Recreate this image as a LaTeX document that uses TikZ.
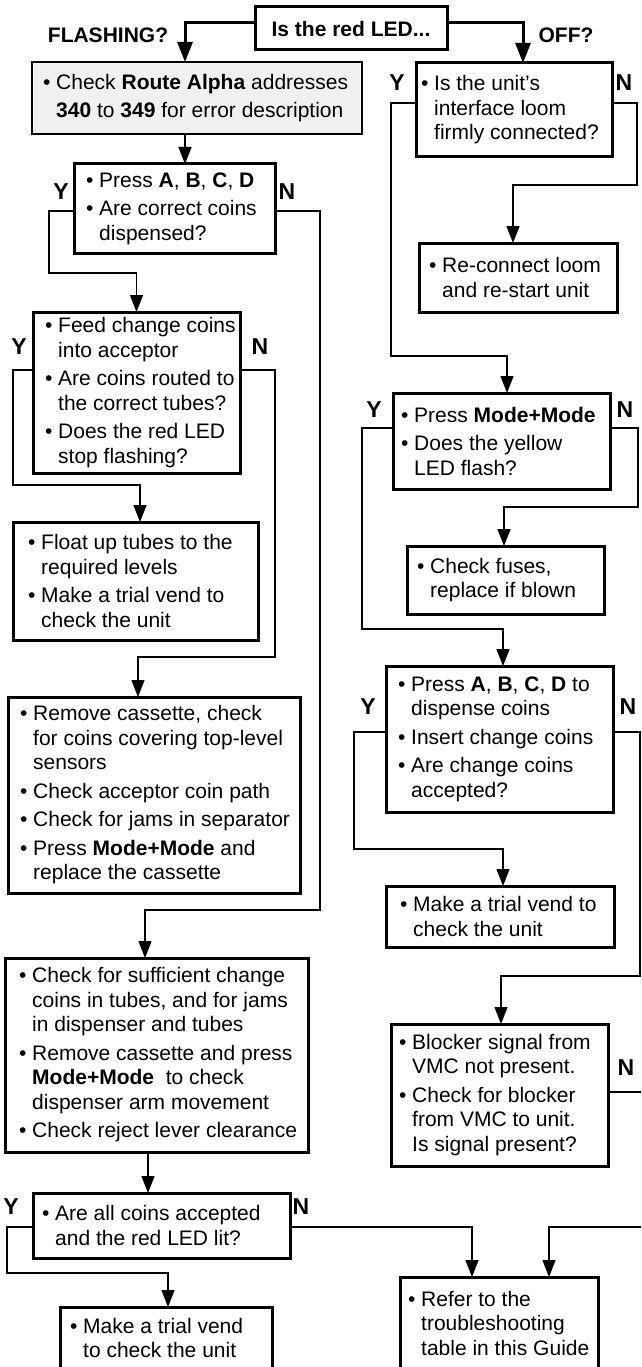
\documentclass[tikz,border=0pt]{standalone}
\usepackage{fontspec}
\setmainfont{Liberation Sans}
\usetikzlibrary{arrows.meta}
\newcommand{\bul}{\makebox[13pt][l]{\textbullet}}
\newcommand{\ind}{\hspace*{13pt}}
\newcommand{\bx}[7]{%
  \node[box, minimum width={(#4-#2)*1pt}, minimum height={(#5-#3)*1pt}] (#1) at (#2,#3) {};
  \node[txt] (#1t) at ([xshift=#6pt]#1.west) {#7};}
\begin{document}
\begin{tikzpicture}[x=1pt,y=-1pt,
  box/.style={draw, line width=3pt, rectangle, anchor=north west, inner sep=0pt, outer sep=0pt},
  txt/.style={anchor=west, align=left, inner sep=0pt, font=\fontsize{21}{24.5}\selectfont},
  lab/.style={font=\fontsize{23}{25}\selectfont\bfseries, inner sep=0pt},
  con/.style={line width=1.3pt, -{Triangle[length=17pt,width=13pt]}},
  tcon/.style={line width=3pt, -{Triangle[length=20pt,width=15pt]}}]
\useasboundingbox (0,0) rectangle (641,1367);
\clip (0,0) rectangle (641,1367);

% top question
\node[box, minimum width=192pt, minimum height=43pt, font=\fontsize{21}{24}\selectfont\bfseries] (T) at (255,7) {Is the red LED...};
\node[lab, font=\fontsize{21}{24}\selectfont\bfseries] (fl) at (108,35) {FLASHING?};
\node[lab, font=\fontsize{21}{24}\selectfont\bfseries] (off) at (566,35) {OFF?};

% left column
\node[box, line width=2.6pt, fill=black!6, minimum width=330pt, minimum height=72pt] (A) at (32,62) {};
\node[txt] (At) at ([xshift=11pt,yshift=0pt]A.west) {\bul Check \textbf{Route Alpha} addresses\\[3pt]\ind\textbf{340} to \textbf{349} for error description};

\bx{B}{74}{164}{275}{253}{12}{\bul Press \textbf{A}, \textbf{B}, \textbf{C}, \textbf{D}\\[4pt]\bul Are correct coins\\\ind dispensed?}
\bx{C}{33}{312}{240}{473}{12}{\bul Feed change coins\\\ind into acceptor\\[4pt]\bul Are coins routed to\\\ind the correct tubes?\\[4pt]\bul Does the red LED\\\ind stop flashing?}
\bx{D}{13}{522}{258}{640}{15}{\bul Float up tubes to the\\\ind required levels\\[4pt]\bul Make a trial vend to\\\ind check the unit}
\bx{E}{8}{697}{300}{893}{12}{\bul Remove cassette, check\\\ind for coins covering top-level\\\ind sensors\\[4pt]\bul Check acceptor coin path\\[4pt]\bul Check for jams in separator\\[4pt]\bul Press \textbf{Mode+Mode} and\\\ind replace the cassette}
\bx{F}{5}{958}{308}{1152}{14}{\bul Check for sufficient change\\\ind coins in tubes, and for jams\\\ind in dispenser and tubes\\[4pt]\bul Remove cassette and press\\\ind\textbf{Mode+Mode}\ \ to check\\\ind dispenser arm movement\\[4pt]\bul Check reject lever clearance}
\bx{G}{33}{1193}{290}{1258}{9}{\bul Are all coins accepted\\\ind and the red LED lit?}
\bx{H}{60}{1307}{272}{1369}{10}{\bul Make a trial vend\\\ind to check the unit}

% right column
\bx{R1}{416}{63}{612}{157}{5}{\bul Is the unit's\\\ind interface loom\\\ind firmly connected?}
\bx{R2}{419}{243}{617}{312}{10}{\bul Re-connect loom\\\ind and re-start unit}
\bx{R3}{393}{393}{610}{489}{8}{\bul Press \textbf{Mode+Mode}\\[4pt]\bul Does the yellow\\\ind LED flash?}
\bx{R4}{407}{546}{604}{614}{10}{\bul Check fuses,\\\ind replace if blown}
\bx{R5}{386}{666}{613}{812}{12}{\bul Press \textbf{A}, \textbf{B}, \textbf{C}, \textbf{D} to\\\ind dispense coins\\[4pt]\bul Insert change coins\\[4pt]\bul Are change coins\\\ind accepted?}
\bx{R6}{386}{886}{614}{947}{14}{\bul Make a trial vend to\\\ind check the unit}
\bx{R7}{391}{1024}{608}{1166}{8}{\bul Blocker signal from\\\ind VMC not present.\\[4pt]\bul Check for blocker\\\ind from VMC to unit.\\\ind Is signal present?}
\bx{R8}{400}{1277}{598}{1369}{8}{\bul Refer to the\\\ind troubleshooting\\\ind table in this Guide}

% Y / N labels
\node[lab] (yB) at (61,192) {Y};   \node[lab] (nB) at (287,192) {N};
\node[lab] (yC) at (19,347) {Y};   \node[lab] (nC) at (260,347) {N};
\node[lab] (yG) at (11,1207) {Y};  \node[lab] (nG) at (301,1207) {N};
\node[lab] (yR1) at (397,83) {Y};  \node[lab] (nR1) at (624,83) {N};
\node[lab] (yR3) at (374,410) {Y}; \node[lab] (nR3) at (625,410) {N};
\node[lab] (yR5) at (368,707) {Y}; \node[lab] (nR5) at (628,707) {N};
\node[lab] (nR7) at (626,1068) {N};

% x positions of arrow heads
\coordinate (xA) at (185,0);
\coordinate (xR1) at (523,0);
\coordinate (xD) at (140,0);
\coordinate (xE) at (138,0);
\coordinate (xF) at (145,0);
\coordinate (xG) at (148,0);
\coordinate (xH) at (168,0);
\coordinate (xR2) at (513,0);
\coordinate (xR3) at (507,0);
\coordinate (xR4) at (504,0);
\coordinate (xR5) at (503,0);
\coordinate (xR6) at (503,0);
\coordinate (xR7) at (501,0);
\coordinate (xR8a) at (472,0);
\coordinate (xR8b) at (549,0);

% connectors
\draw[tcon] ([yshift=6pt]T.west) -| (A.north -| xA);
\draw[tcon] ([yshift=6pt]T.east) -| (R1.north -| xR1);
\draw[con] (A.south -| xA) -- (B.north -| xA);
\draw[con] ([yshift=-2.5pt]B.west) -| (49,273) -| (C.north);
\draw[con] ([yshift=-2.5pt]B.east) -| (320,910) -| (F.north -| xF);
\draw[con] ([yshift=22.5pt]C.west) -| (13,485) -| (D.north -| xD);
\draw[con] ([yshift=22.5pt]C.east) -| (275,657) -| (E.north -| xE);
\draw[con] (F.south -| xG) -- (G.north -| xG);
\draw[con] ([yshift=-1.5pt]G.west) -| (7,1273) -| (H.north -| xH);
\draw[con] ([yshift=-1.5pt]G.east) -| (R8.north -| xR8a);
\draw[con] ([yshift=7pt]R1.west) -| (391,356) -| (R3.north -| xR3);
\draw[con] ([yshift=7pt]R1.east) -| (637,185) -| (R2.north -| xR2);
\draw[con] ([yshift=13pt]R3.west) -| (362,629) -| (R5.north -| xR5);
\draw[con] ([yshift=13pt]R3.east) -| (638,507) -| (R4.north -| xR4);
\draw[con] ([yshift=7pt]R5.west) -| (354,849) -| (R6.north -| xR6);
\draw[con] ([yshift=7pt]R5.east) -| (640,976) -| (R7.north -| xR7);
\draw[con] ([yshift=3pt]R7.east) -| (652,1227) -| (R8.north -| xR8b);
\end{tikzpicture}
\end{document}
